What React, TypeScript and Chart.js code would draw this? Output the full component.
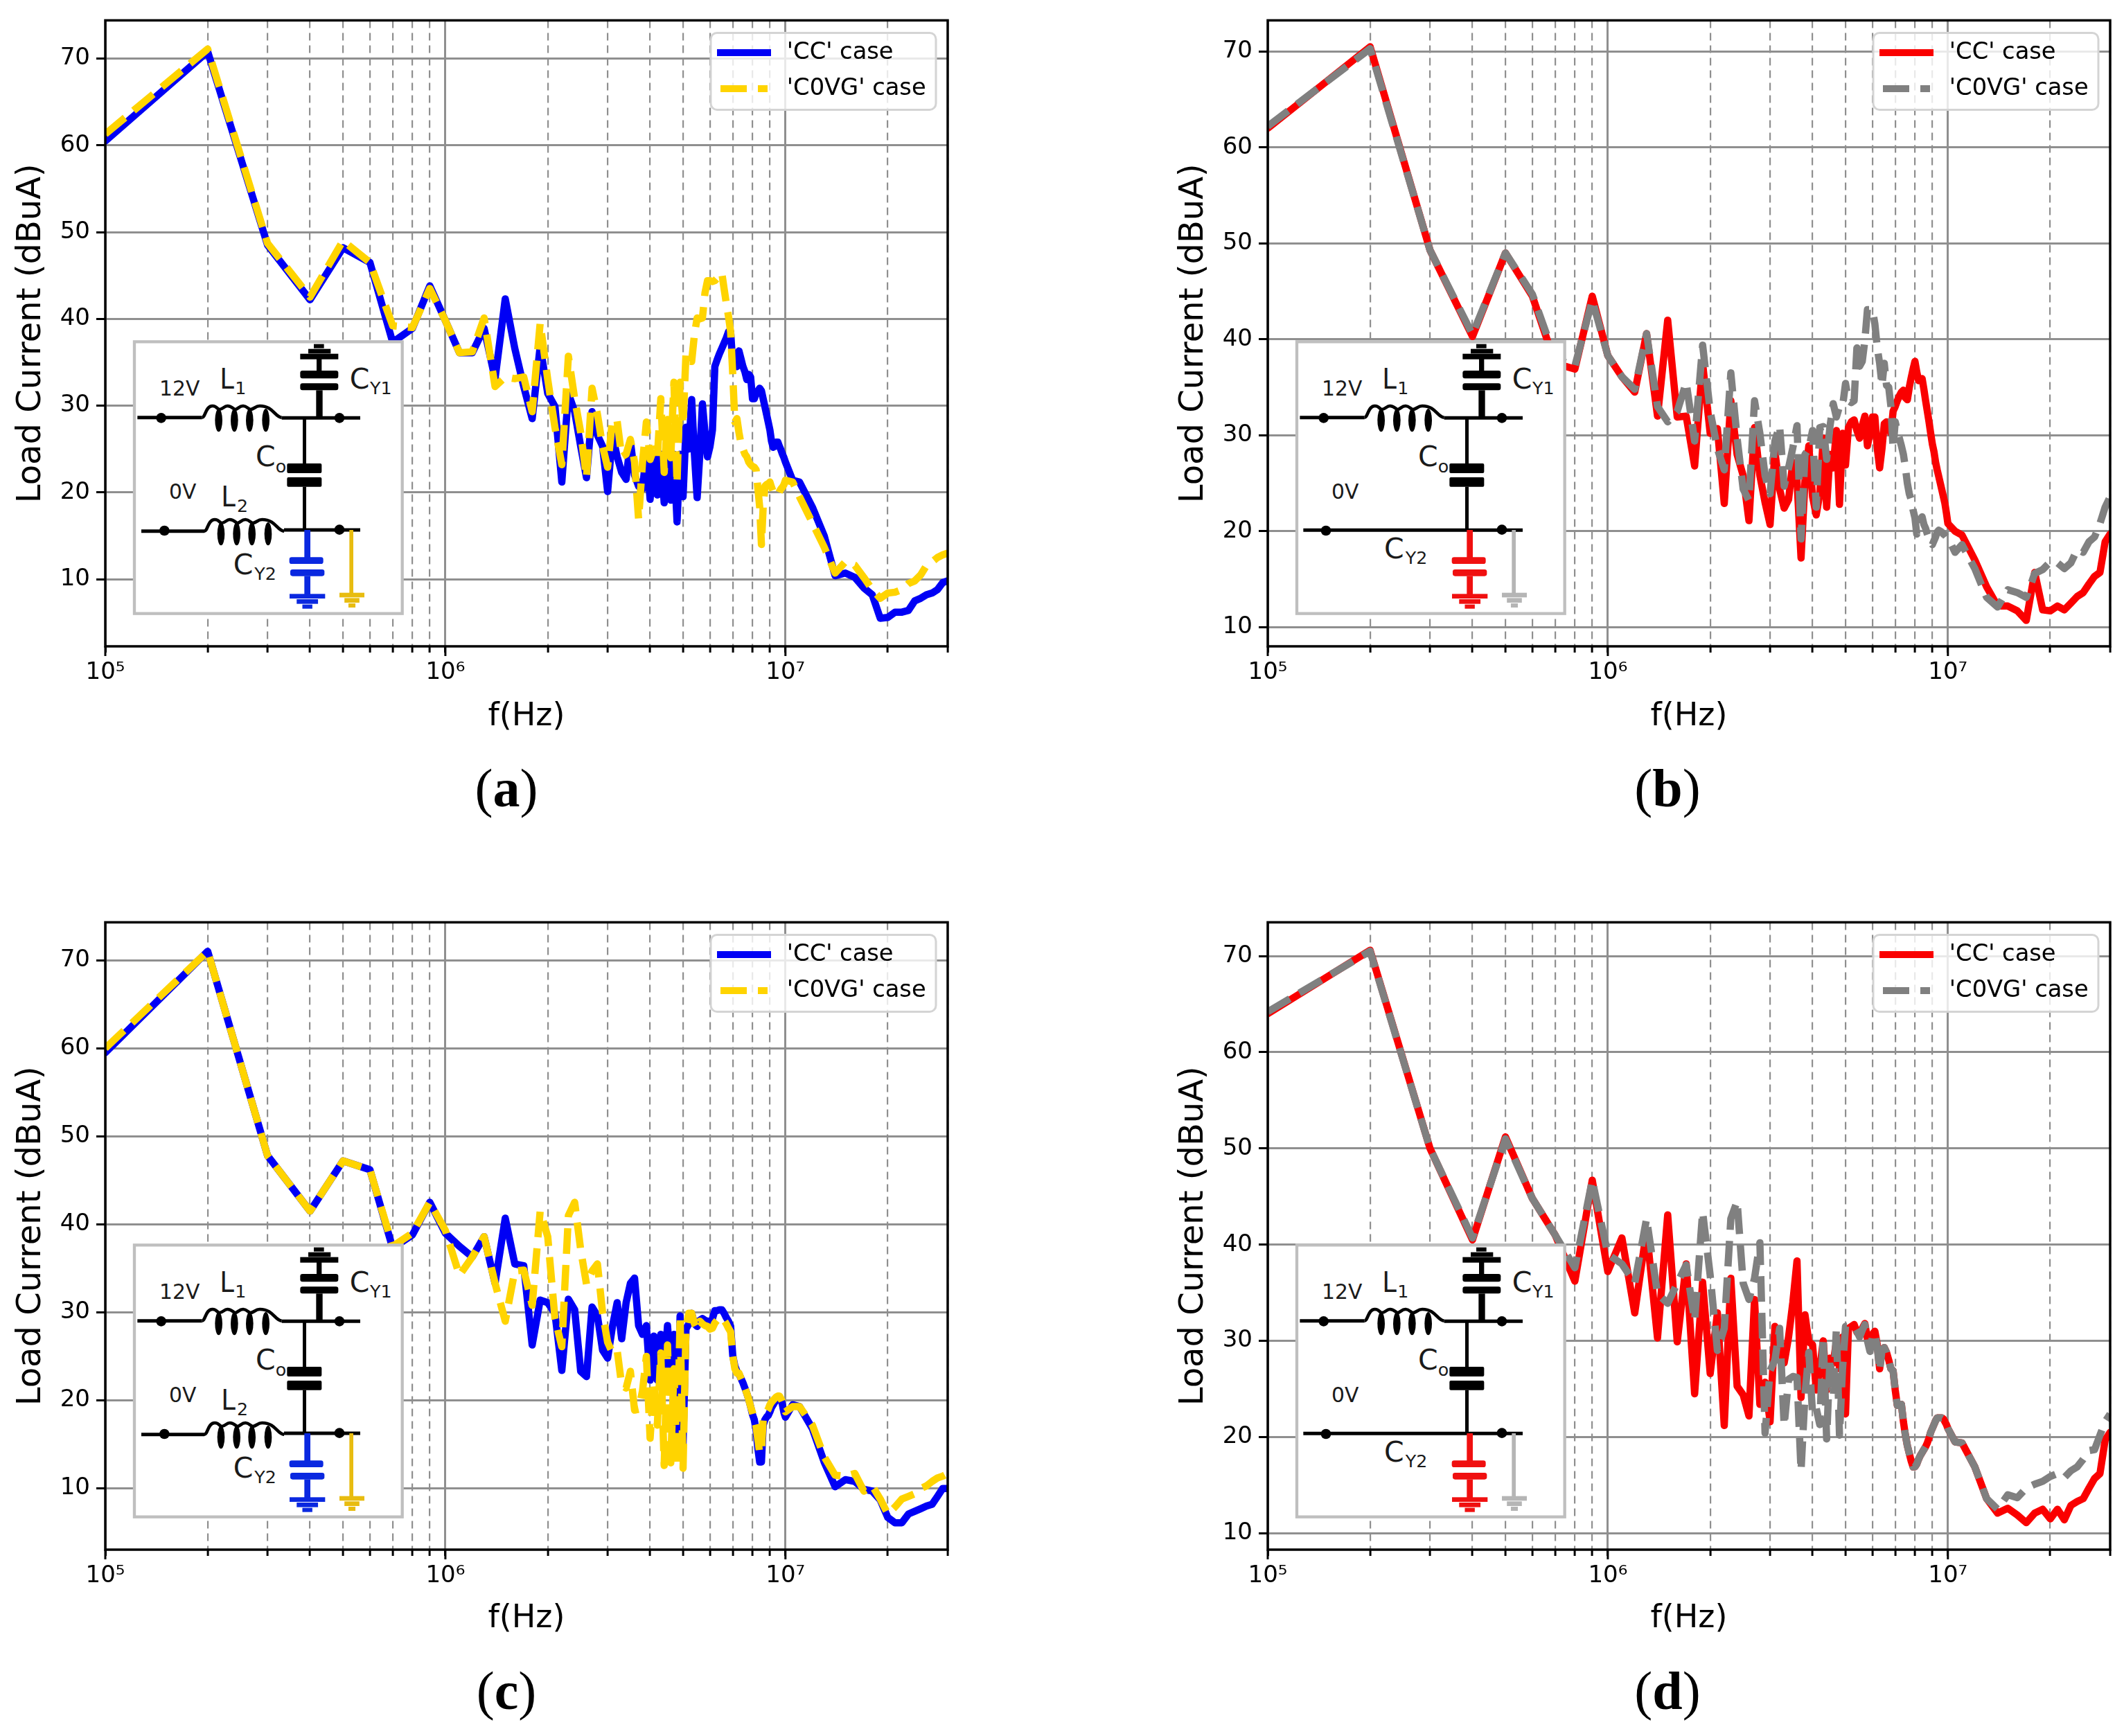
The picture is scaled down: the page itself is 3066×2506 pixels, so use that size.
import React, { useEffect, useRef } from "react";
import { Chart, registerables } from "chart.js";

Chart.register(...registerables);

const FREQ_MHZ = [
  0.1, 0.2, 0.3, 0.4, 0.5, 0.6, 0.7, 0.8, 0.9, 1.0,
  1.1, 1.2, 1.3, 1.4, 1.5, 1.6, 1.7, 1.8, 1.9, 2.0,
  2.1, 2.2, 2.3, 2.4, 2.5, 2.6, 2.7, 2.8, 2.9, 3.0,
  3.1, 3.2, 3.3, 3.4, 3.5, 3.6, 3.7, 3.8, 3.9, 4.0,
  4.1, 4.2, 4.3, 4.4, 4.5, 4.6, 4.7, 4.8, 4.9, 5.0,
  5.1, 5.2, 5.3, 5.4, 5.5, 5.6, 5.7, 5.8, 5.9, 6.0,
  6.1, 6.2, 6.3, 6.4, 6.5, 6.6, 6.7, 6.8, 6.9, 7.0,
  7.1, 7.2, 7.3, 7.4, 7.5, 7.6, 7.7, 7.8, 7.9, 8.0,
  8.1, 8.2, 8.3, 8.4, 8.5, 8.6, 8.7, 8.8, 8.9, 9.0,
  9.1, 9.2, 9.3, 9.4, 9.5, 9.6, 9.7, 9.8, 9.9, 10,
  10.5, 11, 12, 13, 14, 15, 16, 17, 18, 19, 20, 21, 22, 23, 24, 25, 26, 27, 28, 29, 30,
];

const A_CC = [
  60.5, 70.8, 48.5, 42.2, 48.2, 46.5, 37.3, 38.9, 43.8, 39.8,
  36.1, 36.1, 38.9, 33.1, 42.3, 36.6, 32.2, 28.5, 36.8, 31.4,
  29.9, 21.2, 31.4, 29.3, 25.3, 21.7, 29.3, 26.6, 25.3, 20.1,
  26.6, 24.1, 22.3, 21.5, 25.9, 22, 20.7, 20.4, 24.7, 19.2,
  24.4, 19.7, 24.4, 18.8, 25, 19.1, 24.4, 16.6, 24.4, 19.5,
  27.5, 25, 30.7, 24.4, 19.4, 24.4, 30.2, 26.9, 24.1, 25.3,
  27.2, 34.5, 35.3, 36, 36.6, 37.2, 37.8, 38.5, 38.5, 34.8,
  35.4, 34.5, 36.3, 35.4, 34.5, 33.9, 33, 33.6, 33.3, 30.8,
  30.8, 31.4, 31.7, 32, 31.7, 30.8, 29.9, 29, 28.1, 27.2,
  25.9, 25.2, 25.3, 25.8, 25.8, 25.3, 24.9, 24.4, 24, 23.5,
  21.4, 21.2, 18.3, 15, 10.4, 10.7, 10.2, 9, 8.2, 5.5, 5.6, 6.2, 6.2, 6.4, 7.5, 7.8, 8.2, 8.4, 8.8, 9.6, 9.8,
];
const A_C0VG = [
  61.3, 71.1, 48.7, 42.5, 49, 46.5, 39.2, 39, 43.5, 39.8,
  36.1, 36.2, 40.1, 32.2, 33.3, 33.1, 33.3, 29.3, 39.5, 33,
  27.5, 23.2, 35.7, 30.8, 26.9, 21.7, 32, 29, 25.3, 22.9,
  28.4, 28.2, 24.1, 24.4, 26.1, 23.5, 16.9, 23.5, 28.1, 23.8,
  25, 24, 30.8, 22.3, 28.4, 24, 32.7, 21, 32.7, 27.8,
  36, 35.1, 35.1, 38.2, 40.1, 40, 40.1, 43, 44.4, 44.4,
  44.3, 44.4, 44.7, 45, 45.3, 43.5, 41.8, 40.3, 38.5, 33.6,
  28.1, 28.5, 26.9, 25.6, 25, 24.4, 24.1, 23.5, 23.2, 23,
  22.9, 22.6, 20.4, 18.3, 14, 18.3, 20.7, 20.9, 21, 21.2,
  20.6, 20.1, 20.1, 19.7, 19.7, 20.1, 20.4, 20.6, 20.9, 21.4,
  21.2, 19.5, 16.5, 13.7, 10.7, 12, 11.6, 10.2, 8.8, 7.8, 8.4, 8.5, 8.8, 9.5, 9.8, 10.5, 11.6, 12, 12.5, 12.8, 13,
];
const B_CC = [
  62, 70.5, 49.3, 40.3, 49, 44.5, 37.5, 36.9, 44.5, 38.3,
  36.1, 34.5, 40.6, 32, 42, 31.9, 32, 26.8, 37.5, 30.2,
  30.7, 22.9, 33.6, 28, 25.8, 21.1, 30.8, 25.8, 23, 20.7,
  28.3, 24.4, 22.4, 23.3, 27.2, 25.3, 17.2, 25.3, 28.9, 23.6,
  21.7, 23.9, 29.7, 22.5, 28, 26.6, 30.5, 22.8, 30.2, 26.9,
  30.8, 31.4, 31.6, 30.5, 29.7, 31, 32, 28.9, 30.2, 31.9,
  31.9, 28.6, 26.6, 28.6, 31.2, 31.4, 30.8, 30.2, 32.5, 33,
  33.6, 34.1, 34.5, 34.7, 33.9, 33.7, 35, 36, 36.9, 37.7,
  36.6, 35.7, 35.8, 35.9, 34.8, 33.6, 32.5, 31.4, 30.2, 29.1,
  28.3, 27.2, 26.4, 25.7, 25, 24.3, 23.6, 22.9, 21.9, 20.8,
  20, 19.6, 17, 14.2, 12.2, 12.2, 11.7, 10.7, 15.7, 11.8, 11.7, 12.2, 11.8, 12.5, 13.2, 13.6, 14.5, 15.3, 15.7, 18.9, 19.7,
];
const B_C0VG = [
  62.2, 70.3, 49.3, 40.5, 49, 44.7, 38, 37.2, 44.1, 38.3,
  36.1, 34.8, 40.6, 33, 31.4, 32.5, 35.5, 29.4, 39.4, 32.5,
  28.6, 26.4, 36.5, 29.7, 24.4, 23.2, 33.6, 30.2, 25.8, 23.9,
  29.4, 31, 24.7, 26.6, 28.7, 31, 19.2, 28, 28.6, 30.5,
  22.5, 30.8, 30.9, 27.5, 30.9, 33.3, 31.9, 33, 33, 35.4,
  33.6, 33.4, 33.6, 39.1, 37.2, 37.7, 39.9, 43.1, 43.1, 43.1,
  41.6, 39.1, 37.5, 35.2, 37.5, 35.2, 35, 33, 28.6, 31.4,
  30.5, 29.7, 28.9, 28, 26.6, 25, 23.9, 23.3, 22.2, 21.4,
  19.7, 20.8, 21.2, 21.5, 20.7, 20.3, 19.7, 19.2, 18.9, 18.6,
  19, 19.4, 19.9, 20.1, 20, 19.9, 19.7, 19.6, 19.4, 19.3,
  17.8, 18.6, 16.1, 13.1, 12.1, 13.9, 13.6, 13.1, 15.6, 16, 16.8, 16.7, 16.1, 16.7, 18.1, 17.8, 18.9, 19.4, 20.8, 22.5, 23.6,
];
const C_CC = [
  59.5, 71, 47.8, 41.5, 47.2, 46.2, 37.3, 38.8, 42.5, 39,
  37.5, 36.3, 38.6, 33.3, 40.7, 35.5, 35.3, 26.3, 31.4, 31.1,
  29.9, 23.4, 31.5, 30.3, 23.3, 22.7, 30.6, 29.6, 25.7, 24.8,
  28.4, 31.1, 27, 31.1, 33.3, 33.9, 28.5, 27.5, 28.5, 22.3,
  27.3, 22.3, 27.5, 23, 28.5, 23.6, 27.5, 14.8, 29.6, 15.1,
  28.1, 28.7, 29.9, 28.7, 28.4, 29.1, 29.3, 29.1, 29, 28.7,
  29.3, 30.2, 30.2, 30.3, 30.3, 29.9, 29.4, 29, 28.4, 25.1,
  23.9, 23.3, 23, 22.5, 22, 21.4, 20.8, 20.1, 19.3, 18.4,
  17.8, 16.6, 14.5, 13, 13, 17.2, 17.8, 18.1, 18.3, 18.7,
  19.2, 19.5, 19.8, 20.1, 20.2, 20.4, 20.1, 19.5, 18.6, 18.1,
  19.5, 19.3, 16.8, 13, 10.2, 11, 10.8, 9.9, 9.7, 8.7, 6.7, 6.1, 6.1, 7.1, 7.4, 7.7, 8, 8.2, 9.1, 10, 10,
];
const C_C0VG = [
  60, 71, 47.8, 41.5, 47.2, 46.2, 37.5, 39, 42.5, 39.3,
  34.2, 36.3, 38.6, 33.3, 29, 34.7, 34.8, 30.8, 41.5, 38.6,
  29.3, 26.1, 41, 42.5, 37.1, 33.2, 34.7, 35.5, 29.9, 26.6,
  25.4, 25.7, 21.7, 21.4, 23.3, 18.9, 19, 21.1, 25, 15.7,
  22, 17.2, 25.4, 12.6, 26.3, 12.9, 23.6, 12.6, 29.6, 12.3,
  28.4, 29.9, 29.9, 28.7, 28.1, 29, 28.7, 28.5, 28.4, 28.1,
  28.2, 28.8, 29.1, 29.4, 29.4, 29.1, 28.7, 28.2, 27.8, 25.1,
  23.6, 23.1, 23.1, 22.5, 22, 21.4, 20.8, 20.1, 19.3, 18.6,
  17.8, 17, 15.5, 14, 14.2, 17.8, 18.4, 18.7, 19, 19.5,
  19.8, 20, 20.2, 20.4, 20.5, 20.5, 20.2, 19.8, 19.2, 18.7,
  19.3, 19.3, 17.2, 13.6, 11.5, 11.4, 11.7, 9.7, 10.3, 8.8, 7.1, 7.9, 8.8, 9.1, 9.4, 10, 10.3, 10.8, 11.2, 11.4, 11.7,
];
const D_CC = [
  64, 70.6, 50, 40.5, 51.2, 44.8, 41, 36.2, 46.7, 37.2,
  40.7, 32.9, 41.5, 30.3, 43.1, 29.9, 38, 24.5, 36.1, 26.6,
  32.9, 21.2, 36.5, 25.3, 24.4, 22.2, 34.3, 23.4, 25.7, 21.6,
  31.5, 29.3, 27.7, 30.4, 34, 38.3, 24.1, 32.7, 29.9, 29.6,
  24.9, 27.1, 30, 24.9, 28.2, 27.7, 29.9, 27.1, 30.4, 22.4,
  31.3, 31.5, 31.7, 30.9, 30.6, 31.3, 31.8, 30.2, 29.3, 30.7,
  31, 29.6, 27.1, 29.1, 29.3, 28.8, 28, 27.1, 26.9, 24.9,
  23.3, 23.3, 23.4, 21.6, 20.2, 19.1, 18.3, 17.5, 16.9, 16.9,
  17.2, 17.7, 18.1, 18.4, 18.7, 19, 19.4, 19.9, 20.5, 20.9,
  21.3, 21.7, 22, 22, 22, 22, 21.9, 21.6, 21.3, 20.9,
  19.5, 19.4, 16.9, 13.6, 12.1, 12.6, 11.9, 11.1, 12.1, 12.5, 11.5, 12.5, 11.4, 12.9, 13.3, 13.6, 14.7, 15.7, 16.2, 19.7, 20.5,
];
const D_C0VG = [
  64.2, 70.5, 50, 40.7, 51, 44.8, 41, 37.6, 46.7, 39,
  38, 36, 42.7, 34.9, 33.9, 36, 37.9, 32.1, 43.4, 36.8,
  29, 31.3, 42.7, 44.5, 36, 34.3, 36.5, 40.2, 20.4, 26.9,
  28, 31.3, 21.2, 26, 26.3, 26.2, 16.5, 24.4, 28.8, 22.4,
  23, 21.3, 30.4, 19.8, 28.2, 24.1, 31.3, 20.2, 27.1, 31.5,
  31.5, 31.5, 31.5, 31, 30.4, 31.1, 31.7, 30, 28.9, 30.4,
  30.8, 29.3, 26.9, 29, 29.3, 28.8, 28, 27.1, 26.9, 24.9,
  23.3, 23.3, 23.4, 21.6, 20.2, 19.1, 18.3, 17.5, 16.9, 16.9,
  17.2, 17.7, 18.1, 18.4, 18.7, 19, 19.4, 19.9, 20.5, 20.9,
  21.3, 21.7, 22, 22, 22, 22, 21.9, 21.6, 21.3, 20.9,
  19.5, 19.4, 16.9, 13.6, 12.5, 14, 13.7, 14.7, 15.1, 15.4, 15.9, 16.2, 15.8, 16.5, 16.9, 17.7, 18.6, 18.7, 20.2, 21.6, 22.4,
];

const X_TICKS = [
  1e5, 2e5, 3e5, 4e5, 5e5, 6e5, 7e5, 8e5, 9e5,
  1e6, 2e6, 3e6, 4e6, 5e6, 6e6, 7e6, 8e6, 9e6,
  1e7, 2e7, 3e7,
];
const X_LABELS: Record<number, string> = { 100000: "10⁵", 1000000: "10⁶", 10000000: "10⁷" };
const Y_TICKS = [10, 20, 30, 40, 50, 60, 70];
const SERIES_NAMES = ["'CC' case", "'C0VG' case"];
const X_TITLE = "f(Hz)";
const Y_TITLE = "Load Current (dBuA)";

const FONT = "'DejaVu Sans', sans-serif";
const GRID = "#8f8f8f";

function legendKey(color: string, dashed: boolean) {
  const c = document.createElement("canvas");
  c.width = 78;
  c.height = 10;
  const g = c.getContext("2d")!;
  g.fillStyle = color;
  if (dashed) {
    g.fillRect(5, 0, 38, 10);
    g.fillRect(59, 0, 14, 10);
  } else {
    g.fillRect(0, 0, 78, 10);
  }
  return c;
}

const framePlugin = {
  id: "mplFrame",
  afterLayout(chart: any) {
    const a = chart.chartArea;
    const lg = chart.legend;
    const fx = a.right - 17 - 325;
    const fy = a.top + 18;
    lg.left = fx - 15;
    lg.top = fy - 6;
    lg.right = lg.left + 350;
    lg.bottom = lg.top + 140;
    chart.$frame = { fx, fy };
  },
  afterDatasetsDraw(chart: any) {
    const g = chart.ctx;
    const a = chart.chartArea;
    const { fx, fy } = chart.$frame;
    g.save();
    g.beginPath();
    g.roundRect(fx, fy, 325, 111, 9);
    g.fillStyle = "rgba(255,255,255,0.8)";
    g.fill();
    g.lineWidth = 3;
    g.strokeStyle = "#d4d4d4";
    g.stroke();
    g.restore();
    chart.legend.draw();
    // longer tick marks on the decades, then the four spines
    g.save();
    g.strokeStyle = "#000";
    g.lineWidth = 3;
    const xs = chart.scales.x;
    for (const t of xs.ticks) {
      if (X_LABELS[t.value]) {
        const px = xs.getPixelForValue(t.value);
        g.beginPath();
        g.moveTo(px, a.bottom);
        g.lineTo(px, a.bottom + 14);
        g.stroke();
      }
    }
    g.lineWidth = 3.5;
    g.strokeRect(a.left, a.top, a.right - a.left, a.bottom - a.top);
    g.restore();
  },
};

type PanelProps = {
  left: number;
  top: number;
  areaTop: number;
  areaBottom: number;
  yMin: number;
  yMax: number;
  cc: number[];
  c0vg: number[];
  ccColor: string;
  c0vgColor: string;
};

function Panel(p: PanelProps) {
  const ref = useRef<HTMLCanvasElement>(null);
  useEffect(() => {
    const W = 1388;
    const H = 1065;
    const chart = new Chart(ref.current!, {
      type: "line",
      data: {
        datasets: [
          {
            label: SERIES_NAMES[0],
            order: 2,
            data: FREQ_MHZ.map((f, i) => ({ x: f * 1e6, y: p.cc[i] })),
            borderColor: p.ccColor,
            borderWidth: 10.5,
            pointRadius: 0,
            tension: 0,
            borderJoinStyle: "round",
            borderCapStyle: "round",
          },
          {
            label: SERIES_NAMES[1],
            order: 1,
            data: FREQ_MHZ.map((f, i) => ({ x: f * 1e6, y: p.c0vg[i] })),
            borderColor: p.c0vgColor,
            borderWidth: 10.5,
            pointRadius: 0,
            tension: 0,
            borderDash: [37, 16],
            borderJoinStyle: "round",
            borderCapStyle: "butt",
          },
        ],
      },
      options: {
        animation: false,
        responsive: false,
        devicePixelRatio: 1,
        layout: { padding: { left: 0, top: p.areaTop, right: W - 152 - 1216, bottom: 0 } },
        plugins: {
          tooltip: { enabled: false },
          title: { display: false },
          legend: {
            position: "chartArea",
            align: "start",
            labels: {
              usePointStyle: true,
              pointStyleWidth: 90,
              boxWidth: 90,
              padding: 18,
              color: "#000",
              font: { family: FONT, size: 33.7, lineHeight: 1.2 },
              generateLabels: () => [
                {
                  text: SERIES_NAMES[0],
                  pointStyle: legendKey(p.ccColor, false),
                  fontColor: "#000",
                  datasetIndex: 0,
                  lineWidth: 0,
                },
                {
                  text: SERIES_NAMES[1],
                  pointStyle: legendKey(p.c0vgColor, true),
                  fontColor: "#000",
                  datasetIndex: 1,
                  lineWidth: 0,
                },
              ],
            },
          },
        },
        scales: {
          x: {
            type: "logarithmic",
            min: 1e5,
            max: 3e7,
            afterBuildTicks: (s: any) => {
              s.ticks = X_TICKS.map((v) => ({ value: v, major: !!X_LABELS[v] }));
            },
            afterFit: (s: any) => {
              s.height = H - p.areaBottom;
            },
            border: {
              display: false,
              dash: (c: any) => (X_LABELS[c.tick?.value] ? [] : [11, 7]),
            },
            grid: {
              color: GRID,
              lineWidth: (c: any) => (X_LABELS[c.tick?.value] ? 3 : 2.2),
              tickColor: "#000",
              tickWidth: 3,
              tickLength: 9,
            },
            ticks: {
              autoSkip: false,
              maxRotation: 0,
              minRotation: 0,
              padding: 9,
              color: "#000",
              font: { family: FONT, size: 34 },
              callback: (v: any) => X_LABELS[v] ?? "",
            },
            title: {
              display: true,
              text: X_TITLE,
              color: "#000",
              font: { family: FONT, size: 46, lineHeight: 1.2 },
              padding: { top: 0, bottom: 2 },
            },
          },
          y: {
            type: "linear",
            min: p.yMin,
            max: p.yMax,
            afterBuildTicks: (s: any) => {
              s.ticks = Y_TICKS.map((v) => ({ value: v }));
            },
            afterFit: (s: any) => {
              s.width = 152;
            },
            border: { display: false },
            grid: {
              color: GRID,
              lineWidth: 3,
              tickColor: "#000",
              tickWidth: 3,
              tickLength: 13,
            },
            ticks: {
              padding: 9,
              color: "#000",
              font: { family: FONT, size: 34 },
            },
            title: {
              display: true,
              text: Y_TITLE,
              color: "#000",
              font: { family: FONT, size: 48, lineHeight: 1.2 },
              padding: { top: 17, bottom: 0 },
            },
          },
        },
      },
      plugins: [framePlugin],
    } as any);
    return () => chart.destroy();
  }, []);
  return (
    <canvas
      ref={ref}
      width={1388}
      height={1065}
      style={{ position: "absolute", left: p.left, top: p.top, width: 1388, height: 1065 }}
    />
  );
}

const txt = { fontFamily: "'DejaVu Sans', sans-serif", fill: "#1a1a1a" };

function Label({ x, y, main, sub, subDx, size = 122 }: any) {
  return (
    <>
      <text x={x} y={y} fontSize={size} textLength={main === "L" ? 62 : 86} lengthAdjust="spacingAndGlyphs" style={txt}>
        {main}
      </text>
      <text x={x + subDx} y={y + 25} fontSize={76} style={txt}>
        {sub}
      </text>
    </>
  );
}

function Coil({ x0, y }: { x0: number; y: number }) {
  return (
    <g>
      <path
        d={`M ${x0} ${y} C ${x0 + 15} ${y}, ${x0 + 15} ${y - 50}, ${x0 + 45} ${y - 50} C ${x0 + 65} ${y - 50}, ${x0 + 65} ${y - 35}, ${x0 + 75} ${y - 35} C ${x0 + 90} ${y - 35}, ${x0 + 95} ${y - 50}, ${x0 + 110} ${y - 50} C ${x0 + 130} ${y - 50}, ${x0 + 135} ${y - 35}, ${x0 + 143} ${y - 35} C ${x0 + 155} ${y - 35}, ${x0 + 160} ${y - 50}, ${x0 + 178} ${y - 50} C ${x0 + 195} ${y - 50}, ${x0 + 200} ${y - 35}, ${x0 + 210} ${y - 35} C ${x0 + 225} ${y - 35}, ${x0 + 230} ${y - 50}, ${x0 + 250} ${y - 50} C ${x0 + 310} ${y - 50}, ${x0 + 315} ${y}, ${x0 + 345} ${y}`}
        fill="none"
        stroke="#000"
        strokeWidth={14}
      />
      {[72, 140, 206, 276].map((dx) => (
        <ellipse key={dx} cx={x0 + dx} cy={y + 12} rx={16} ry={50} fill="#000" />
      ))}
    </g>
  );
}

function Ground({ x, y, w, color }: { x: number; y: number; w: number; color: string }) {
  return (
    <g fill={color}>
      <rect x={x - w / 2} y={y} width={w} height={20} />
      <rect x={x - w * 0.3} y={y + 23} width={w * 0.6} height={20} />
      <rect x={x - w * 0.14} y={y + 46} width={w * 0.28} height={18} />
    </g>
  );
}

function Inset({ x, y, capColor, gndColor, withL2 }: { x: number; y: number; capColor: string; gndColor: string; withL2: boolean }) {
  return (
    <svg
      viewBox="0 0 1320 1320"
      width={440}
      height={440}
      style={{ position: "absolute", left: x - 24, top: y - 23.3 }}
    >
      <rect x={72} y={70} width={1160} height={1177} fill="#fff" stroke="#bfbfbf" strokeWidth={13} />
      <g stroke="#000" strokeWidth={15}>
        <line x1={85} y1={398} x2={365} y2={398} />
        <line x1={710} y1={400} x2={1050} y2={400} />
        {withL2 ? (
          <>
            <line x1={102} y1={890} x2={375} y2={890} />
            <line x1={720} y1={885} x2={1050} y2={885} />
          </>
        ) : (
          <line x1={100} y1={886} x2={1050} y2={886} />
        )}
      </g>
      <Coil x0={365} y={398} />
      {withL2 && <Coil x0={375} y={890} />}
      <g fill="#000">
        <circle cx={188} cy={400} r={22} />
        <circle cx={960} cy={400} r={22} />
        <circle cx={withL2 ? 202 : 198} cy={888} r={22} />
        <circle cx={960} cy={884} r={22} />
        <rect x={859} y={280} width={28} height={118} />
        <rect x={790} y={250} width={165} height={30} rx={10} />
        <rect x={790} y={195} width={165} height={34} rx={10} />
        <rect x={861} y={135} width={22} height={62} />
        <rect x={790} y={122} width={165} height={24} />
        <rect x={825} y={101} width={97} height={20} />
        <rect x={849} y={80} width={44} height={18} />
        <rect x={801} y={400} width={15} height={200} />
        <rect x={733} y={597} width={150} height={42} rx={6} />
        <rect x={733} y={657} width={150} height={41} rx={6} />
        <rect x={801} y={698} width={15} height={185} />
      </g>
      <g fill={capColor}>
        <rect x={808} y={885} width={26} height={120} />
        <rect x={743} y={1003} width={147} height={29} rx={10} />
        <rect x={747} y={1056} width={148} height={29} rx={10} />
        <rect x={808} y={1085} width={26} height={80} />
      </g>
      <Ground x={821} y={1162} w={154} color={capColor} />
      <rect x={1003} y={885} width={17} height={275} fill={gndColor} />
      <Ground x={1014} y={1157} w={108} color={gndColor} />
      <text x={180} y={303} fontSize={88} textLength={175} lengthAdjust="spacingAndGlyphs" style={txt}>12V</text>
      <text x={222} y={749} fontSize={88} textLength={118} lengthAdjust="spacingAndGlyphs" style={txt}>0V</text>
      <Label x={442} y={272} main="L" sub="1" subDx={66} />
      {withL2 && <Label x={448} y={782} main="L" sub="2" subDx={68} />}
      <Label x={1004} y={272} main="C" sub="Y1" subDx={88} />
      <Label x={597} y={610} main="C" sub="o" subDx={86} />
      {withL2 ? (
        <Label x={500} y={1077} main="C" sub="Y2" subDx={92} />
      ) : (
        <Label x={450} y={1007} main="C" sub="Y2" subDx={92} />
      )}
    </svg>
  );
}

function Caption({ x, y, letter }: { x: number; y: number; letter: string }) {
  return (
    <div
      style={{
        position: "absolute",
        left: x,
        top: y,
        transform: "translate(-50%,-50%)",
        fontFamily: "'Liberation Serif', serif",
        fontSize: 78,
        lineHeight: 1,
        color: "#000",
        whiteSpace: "nowrap",
      }}
    >
      (<b>{letter}</b>)
    </div>
  );
}

export default function App() {
  const BLUE = "#0000f5";
  const GOLD = "#ffd400";
  const RED = "#fa0000";
  const GREY = "#808080";
  return (
    <div style={{ position: "absolute", left: 0, top: 0, width: 3066, height: 2506, background: "#fff", overflow: "hidden" }}>
      <Panel left={0} top={0} areaTop={29} areaBottom={933} yMin={2.26} yMax={74.4} cc={A_CC} c0vg={A_C0VG} ccColor={BLUE} c0vgColor={GOLD} />
      <Panel left={1678} top={0} areaTop={29} areaBottom={933} yMin={8} yMax={73.25} cc={B_CC} c0vg={B_C0VG} ccColor={RED} c0vgColor={GREY} />
      <Panel left={0} top={1302} areaTop={29} areaBottom={935} yMin={3.05} yMax={74.3} cc={C_CC} c0vg={C_C0VG} ccColor={BLUE} c0vgColor={GOLD} />
      <Panel left={1678} top={1302} areaTop={29} areaBottom={935} yMin={8.3} yMax={73.5} cc={D_CC} c0vg={D_C0VG} ccColor={RED} c0vgColor={GREY} />
      <Inset x={194} y={493} capColor="#0a28e0" gndColor="#e8bc10" withL2 />
      <Inset x={1872} y={493} capColor="#f01010" gndColor="#b5b5b5" withL2={false} />
      <Inset x={194} y={1797} capColor="#0a28e0" gndColor="#e8bc10" withL2 />
      <Inset x={1872} y={1797} capColor="#f01010" gndColor="#b5b5b5" withL2={false} />
      <Caption x={731} y={1138} letter="a" />
      <Caption x={2407} y={1138} letter="b" />
      <Caption x={731} y={2441} letter="c" />
      <Caption x={2407} y={2441} letter="d" />
    </div>
  );
}
